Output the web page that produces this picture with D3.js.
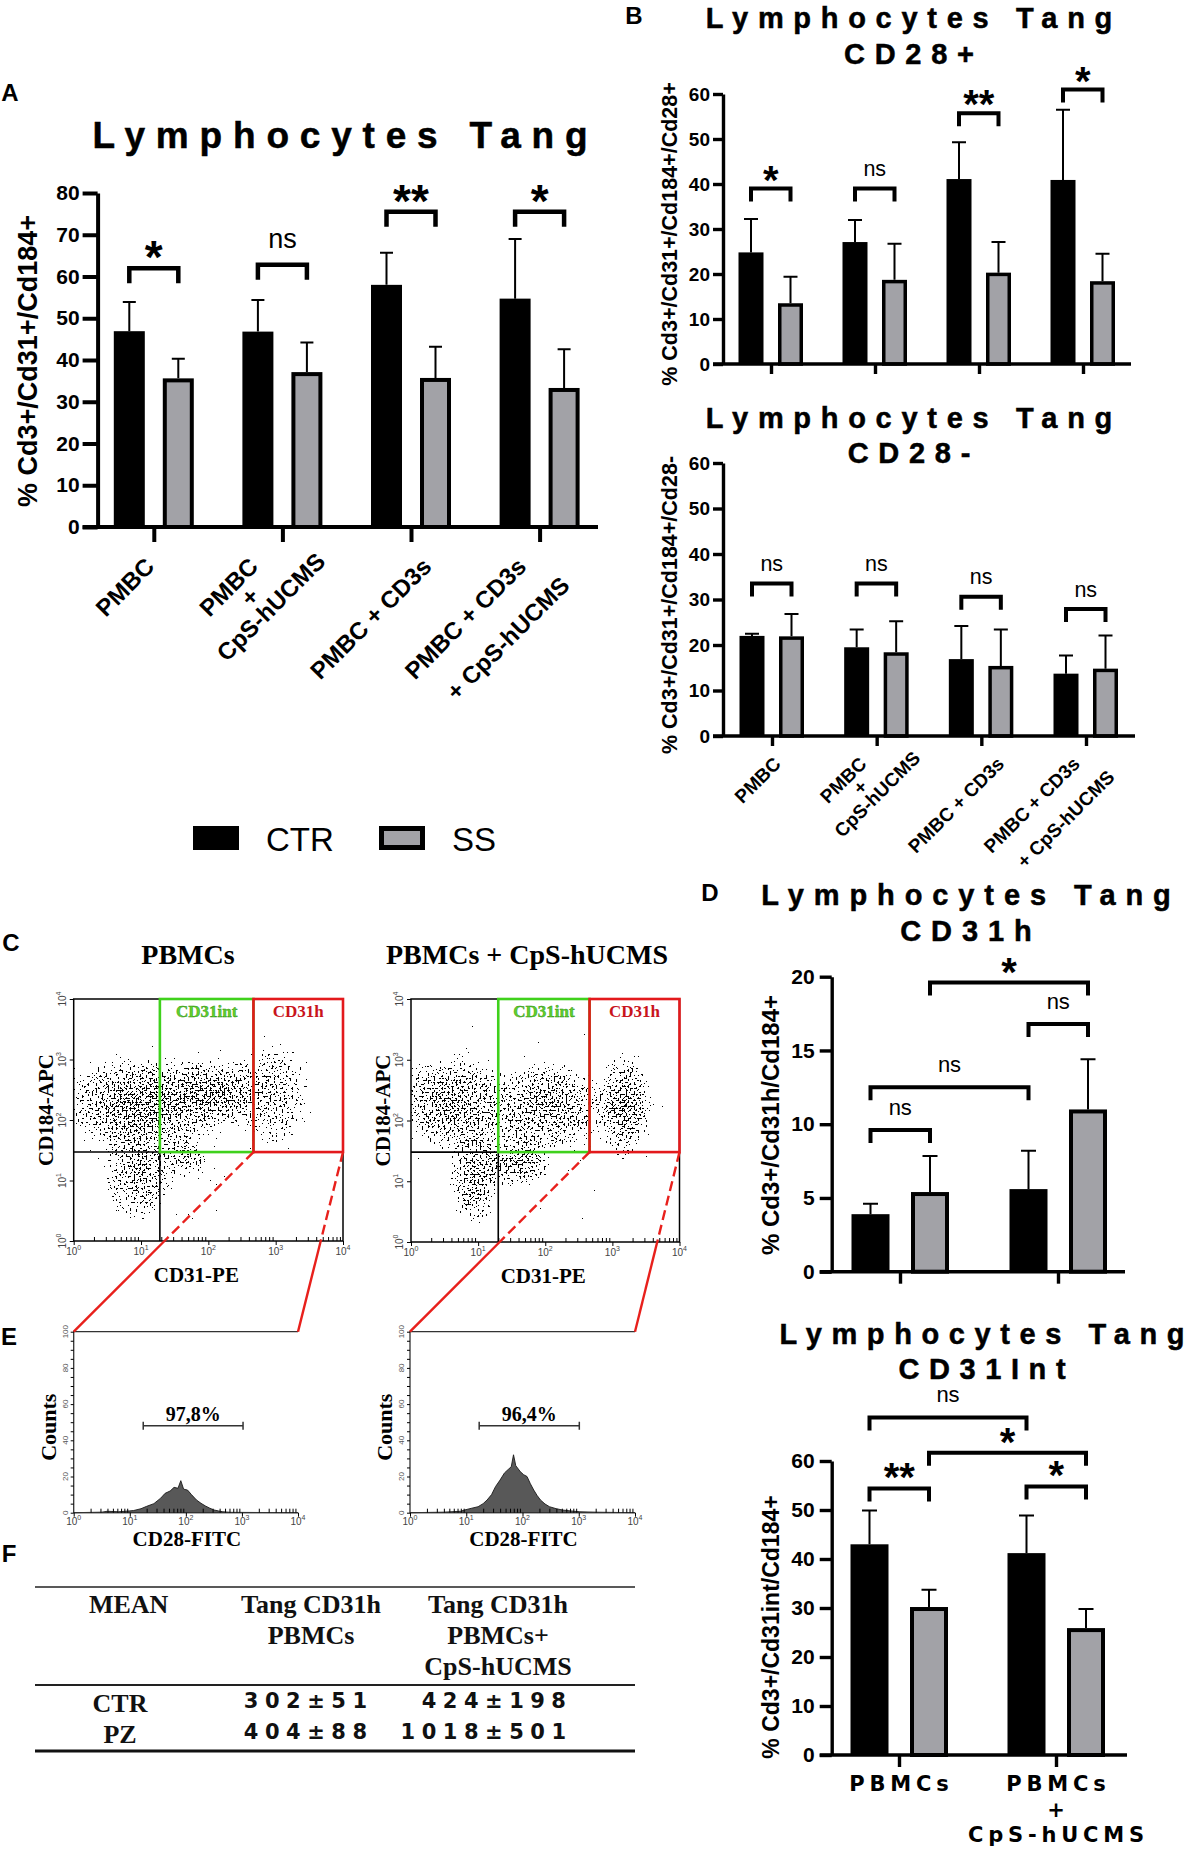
<!DOCTYPE html>
<html>
<head>
<meta charset="utf-8">
<script src="https://cdn.jsdelivr.net/npm/d3@7"></script>
<style>
  body { margin: 0; background: #fff; }
</style>
</head>
<body>
<div id="fig"></div>
<script>
const W = 1193, H = 1849;
const SANS = "'Liberation Sans', Arial, Helvetica, sans-serif";
const WIDE = "'DejaVu Sans', Verdana, sans-serif";
const SERIF = "'Liberation Serif', 'Times New Roman', serif";
const GRAY = "#a2a2a7";

// ---------- data: panel A ----------
const series = ["CTR", "SS"];
const groupsA = [["PMBC"], ["PMBC", "+", "CpS-hUCMS"], ["PMBC + CD3s"], ["PMBC + CD3s", "", "+ CpS-hUCMS"]];
const ctrA = [46.9, 46.8, 58.0, 54.7];
const ctrSdA = [7.0, 7.6, 7.7, 14.3];
const ssA = [35.6, 37.1, 35.7, 33.3];
const ssSdA = [4.7, 7.1, 7.5, 9.3];
const sigA = ["*", "ns", "**", "*"];
const sigLevelA = [62.0, 62.8, 75.5, 75.5];

// ---------- data: panel B (CD28+ / CD28-) ----------
const ctrB1 = [24.8, 27.1, 41.1, 40.9];
const ctrSdB1 = [7.4, 4.9, 8.2, 15.6];
const ssB1 = [13.5, 18.7, 20.3, 18.4];
const ssSdB1 = [5.9, 8.0, 6.8, 6.1];
const sigB1 = ["*", "ns", "**", "*"];
const sigLevelB1 = [39.0, 39.0, 55.7, 61.0];

const ctrB2 = [22.0, 19.5, 16.9, 13.7];
const ctrSdB2 = [0.5, 3.9, 7.3, 4.0];
const ssB2 = [21.9, 18.4, 15.4, 14.8];
const ssSdB2 = [4.9, 6.8, 8.0, 7.3];
const sigB2 = ["ns", "ns", "ns", "ns"];
const sigLevelB2 = [33.5, 33.5, 30.6, 27.9];

// ---------- data: panel D (CD31h / CD31int) ----------
const groupsD = [["PBMCs"], ["PBMCs", "+", "CpS-hUCMS"]];
const ctrD1 = [3.9, 5.6];
const ctrSdD1 = [0.7, 2.6];
const ssD1 = [5.4, 11.0];
const ssSdD1 = [2.45, 3.4];
// [group, series, group, series, label, level]
const compD1 = [[0, "CTR", 0, "SS", "ns", 9.6], [0, "CTR", 1, "CTR", "ns", 12.5],
                [1, "CTR", 1, "SS", "ns", 16.8], [0, "SS", 1, "SS", "*", 19.6]];
const ctrD2 = [43.0, 41.2];
const ctrSdD2 = [6.9, 7.7];
const ssD2 = [30.2, 25.9];
const ssSdD2 = [3.5, 3.9];
const compD2 = [[0, "CTR", 0, "SS", "**", 54.4], [1, "CTR", 1, "SS", "*", 54.8],
                [0, "SS", 1, "SS", "*", 61.7], [0, "CTR", 1, "CTR", "ns", 68.9]];

// ---------- data: panel C (flow dot plots, log10 units) ----------
const decades = [0, 1, 2, 3, 4];
// [log CD31, log CD184, spread x, spread y, density]
const cloudsC1 = [
  [0.75, 2.3, 0.5, 0.42, 1.0], [2.15, 2.45, 0.45, 0.32, 1.0], [1.45, 2.3, 0.4, 0.4, 0.8],
  [0.95, 1.15, 0.3, 0.55, 0.85], [1.6, 1.4, 0.22, 0.2, 0.85], [3.0, 2.45, 0.32, 0.55, 0.7],
  [1.6, 2.0, 1.6, 1.35, 0.5]
];
const cloudsC2 = [
  [0.6, 2.3, 0.5, 0.45, 0.95], [2.05, 2.25, 0.52, 0.4, 0.9], [0.95, 1.1, 0.22, 0.55, 0.9],
  [1.6, 1.35, 0.27, 0.27, 0.95], [3.2, 2.25, 0.24, 0.52, 1.0], [1.7, 2.0, 1.7, 1.35, 0.5]
];
// [CD31 quadrant, CD31int/CD31h split, CD184 quadrant] in log10
const gatesC1 = [1.28, 2.67, 1.47];
const gatesC2 = [1.30, 2.66, 1.48];

// ---------- data: panel E (CD28-FITC histograms) ----------
const histX1 = [0, 0.5, 0.6, 0.8, 1.0, 1.07, 1.2, 1.3, 1.43, 1.55, 1.63, 1.72, 1.79, 1.86, 1.91, 1.96,
                2.03, 2.1, 2.19, 2.27, 2.35, 2.42, 2.5, 2.58, 2.66, 2.8, 4.0];
const countsE1 = [0, 0.3, 0.8, 0.5, 1, 1.2, 2.2, 3.5, 5, 8, 10.7, 12, 14, 13.5, 17.7, 13,
                  12.5, 10, 7, 5.2, 3.7, 2.6, 1.5, 1, 0.5, 0.2, 0];
const histX2 = [0, 0.6, 0.9, 0.97, 1.1, 1.21, 1.3, 1.37, 1.45, 1.52, 1.6, 1.68, 1.75, 1.8, 1.84, 1.88,
                1.96, 2.02, 2.08, 2.14, 2.2, 2.26, 2.32, 2.4, 2.48, 2.6, 2.71, 2.85, 3.02, 3.3, 4.0];
const countsE2 = [0, 0.3, 0.8, 1.5, 2.5, 3.3, 5, 7, 10, 14.4, 18, 22, 24, 25.4, 32, 26,
                  22.7, 21, 20, 16, 12.5, 9.5, 7, 4.8, 3.3, 2.2, 1.5, 1, 0.5, 0.3, 0];
const markerE1 = [1.24, 3.02, 48, "97,8%"];
const markerE2 = [1.23, 3.01, 48, "96,4%"];

// ---------- data: panel F (table) ----------
const tableHead = [["MEAN"], ["Tang CD31h", "PBMCs"], ["Tang CD31h", "PBMCs+", "CpS-hUCMS"]];
const tableRows = [["CTR", "302±51", "424±198"], ["PZ", "404±88", "1018±501"]];

// ---------- svg ----------
const svg = d3.select("#fig").append("svg")
  .attr("width", W).attr("height", H).attr("viewBox", `0 0 ${W} ${H}`)
  .style("font-family", SANS);
svg.append("rect").attr("width", W).attr("height", H).attr("fill", "#fff");
const defs = svg.append("defs");

const grad = defs.append("radialGradient").attr("id", "cloud");
grad.append("stop").attr("offset", "0").attr("stop-color", "#000").attr("stop-opacity", 1);
grad.append("stop").attr("offset", "0.55").attr("stop-color", "#000").attr("stop-opacity", 0.65);
grad.append("stop").attr("offset", "1").attr("stop-color", "#000").attr("stop-opacity", 0);

function panelLetter(t, x, y) {
  svg.append("text").attr("x", x).attr("y", y).attr("text-anchor", "middle")
    .attr("font-size", 24).attr("font-weight", "bold").text(t);
}

function title(lines, cx, ys, size, ls) {
  lines.forEach((s, i) => {
    svg.append("text").attr("x", cx + ls / 2).attr("y", ys[i]).attr("text-anchor", "middle")
      .attr("font-size", size).attr("font-weight", "bold")
      .attr("stroke", "#000").attr("stroke-width", 0.5)
      .attr("letter-spacing", ls).text(s);
  });
}

function yLabel(t, x, y, size) {
  svg.append("text").attr("transform", `translate(${x},${y}) rotate(-90)`)
    .attr("text-anchor", "middle").attr("font-size", size).attr("font-weight", "bold").text(t);
}

// grouped bar chart with upper SD whiskers and significance brackets
function barPanel(o) {
  const g = svg.append("g");
  const y = d3.scaleLinear().domain([0, o.yMax]).range([o.yBottom, o.yTop]);
  const x = d3.scalePoint().domain(d3.range(o.ctr.length)).range(o.xRange);
  const sub = d3.scalePoint().domain(series).range(o.sub);
  const cx = (i, s) => x(i) + sub(s);

  const rows = [];
  o.ctr.forEach((v, i) => rows.push({ i, s: "CTR", v, sd: o.ctrSd[i] }));
  o.ss.forEach((v, i) => rows.push({ i, s: "SS", v, sd: o.ssSd[i] }));

  // whiskers
  g.selectAll(".err").data(rows).join("path")
    .attr("d", d => `M${cx(d.i, d.s)},${y(d.v)}V${y(d.v + d.sd)}` +
                    `M${cx(d.i, d.s) - o.cap / 2},${y(d.v + d.sd)}h${o.cap}`)
    .attr("stroke", "#000").attr("stroke-width", o.errW).attr("fill", "none");

  // bars
  g.selectAll(".bar").data(rows).join("rect")
    .attr("x", d => cx(d.i, d.s) - o.bw / 2 + (d.s === "SS" ? o.bs / 2 : 0))
    .attr("y", d => y(d.v) + (d.s === "SS" ? o.bs / 2 : 0))
    .attr("width", d => o.bw - (d.s === "SS" ? o.bs : 0))
    .attr("height", d => y(0) - y(d.v) - (d.s === "SS" ? o.bs / 2 : 0))
    .attr("fill", d => d.s === "SS" ? GRAY : "#000")
    .attr("stroke", d => d.s === "SS" ? "#000" : "none")
    .attr("stroke-width", o.bs);

  // axes
  g.append("g").attr("transform", `translate(${o.axisX},0)`)
    .call(d3.axisLeft(y).tickValues(d3.range(0, o.yMax + 0.01, o.step))
      .tickSize(o.tick).tickSizeOuter(0).tickPadding(o.pad))
    .call(a => {
      a.select(".domain").attr("stroke-width", o.sw);
      a.selectAll(".tick line").attr("stroke-width", o.sw);
      a.selectAll("text").attr("font-size", o.tickFont).attr("font-weight", "bold")
        .attr("font-family", SANS).attr("fill", "#000");
    });
  g.append("g").attr("transform", `translate(0,${o.yBottom})`)
    .call(d3.axisBottom(x).tickSize(o.tick).tickSizeOuter(0).tickFormat(() => ""))
    .call(a => {
      a.select(".domain").remove();
      a.selectAll(".tick line").attr("stroke-width", o.sw);
    });
  g.append("line").attr("x1", o.axisX - o.tick).attr("x2", o.xEnd)
    .attr("y1", o.yBottom).attr("y2", o.yBottom)
    .attr("stroke", "#000").attr("stroke-width", o.sw);

  // significance brackets
  g.selectAll(".brk").data(o.comps).join("path")
    .attr("d", d => {
      const x1 = cx(d[0], d[1]), x2 = cx(d[2], d[3]), yy = y(d[5]);
      return `M${x1},${yy + o.leg}V${yy}H${x2}V${yy + o.leg}`;
    })
    .attr("fill", "none").attr("stroke", "#000").attr("stroke-width", o.bsw)
    .attr("stroke-linejoin", "miter");
  g.selectAll(".sig").data(o.comps).join("text")
    .attr("x", d => (cx(d[0], d[1]) + cx(d[2], d[3])) / 2)
    .attr("y", d => d[4] === "ns" ? y(d[5]) - o.nsGap : y(d[5]) + o.starGap)
    .attr("text-anchor", "middle")
    .attr("font-size", d => d[4] === "ns" ? o.nsFont : o.starFont)
    .attr("font-weight", d => d[4] === "ns" ? "normal" : "bold")
    .text(d => d[4]);

  return { g, x, y };
}

// rotated multi-line category labels
function rotLabels(p, groups, o) {
  groups.forEach((lines, i) => {
    const t = p.g.append("text")
      .attr("transform", `translate(${p.x(i) + o.dx[i]},${p.y(0) + o.dy}) rotate(-45)`)
      .attr("font-size", o.font).attr("font-weight", "bold").attr("text-anchor", "middle");
    const spans = lines.map((s, j) => t.append("tspan").attr("y", j * o.lh).text(s));
    const w = spans.map(s => s.node().getComputedTextLength());
    spans.forEach((s, j) => s.attr("x", -w[0] / 2 + j * o.shift));
  });
}

function compsFrom(sig, levels) {
  return sig.map((l, i) => [i, "CTR", i, "SS", l, levels[i]]);
}

// ---------- panel A ----------
panelLetter("A", 10, 101);
title(["Lymphocytes Tang"], 340, [148], 37, 10.8);
yLabel("% Cd3+/Cd31+/Cd184+", 37, 361, 27);
const pA = barPanel({
  ctr: ctrA, ctrSd: ctrSdA, ss: ssA, ssSd: ssSdA, comps: compsFrom(sigA, sigLevelA),
  yMax: 80, step: 10, yTop: 193, yBottom: 527, axisX: 97.6, xRange: [153.8, 539.6], xEnd: 598,
  sub: [-24.5, 24.5], bw: 31, bs: 4, tick: 15, pad: 3, sw: 4, tickFont: 21, cap: 13, errW: 2,
  leg: 15, bsw: 4.5, starFont: 46, nsFont: 27, starGap: 5, nsGap: 17
});
rotLabels(pA, groupsA, { dx: [2, -23, 22, -12], dy: 41, lh: 22, shift: 8, font: 24 });

// legend
svg.append("rect").attr("x", 193).attr("y", 826).attr("width", 46).attr("height", 24).attr("fill", "#000");
svg.append("rect").attr("x", 381.5).attr("y", 828.5).attr("width", 41).attr("height", 19)
  .attr("fill", GRAY).attr("stroke", "#000").attr("stroke-width", 5);
svg.append("text").attr("x", 266).attr("y", 851).attr("font-size", 33).text(series[0]);
svg.append("text").attr("x", 452).attr("y", 851).attr("font-size", 33).text(series[1]);

// ---------- panel B ----------
panelLetter("B", 634, 24);
title(["Lymphocytes Tang", "CD28+"], 909, [28, 64], 29, 9.7);
yLabel("% Cd3+/Cd31+/Cd184+/Cd28+", 677, 234, 21.5);
barPanel({
  ctr: ctrB1, ctrSd: ctrSdB1, ss: ssB1, ssSd: ssSdB1, comps: compsFrom(sigB1, sigLevelB1),
  yMax: 60, step: 10, yTop: 94, yBottom: 364, axisX: 723, xRange: [771, 1083], xEnd: 1131,
  sub: [-20, 19.5], bw: 25, bs: 3.5, tick: 10, pad: 3, sw: 3.4, tickFont: 19, cap: 14, errW: 2,
  leg: 13, bsw: 4, starFont: 40, nsFont: 21.5, starGap: 5, nsGap: 12.5
});
title(["Lymphocytes Tang", "CD28-"], 909, [428, 463], 29, 9.7);
yLabel("% Cd3+/Cd31+/Cd184+/Cd28-", 677, 605, 21.5);
const pB2 = barPanel({
  ctr: ctrB2, ctrSd: ctrSdB2, ss: ssB2, ssSd: ssSdB2, comps: compsFrom(sigB2, sigLevelB2),
  yMax: 60, step: 10, yTop: 463, yBottom: 736, axisX: 723, xRange: [772, 1086], xEnd: 1135,
  sub: [-20, 19.5], bw: 25, bs: 3.5, tick: 10, pad: 3, sw: 3.4, tickFont: 19, cap: 14, errW: 2,
  leg: 13, bsw: 4, starFont: 40, nsFont: 21.5, starGap: 5, nsGap: 12.5
});
rotLabels(pB2, groupsA, { dx: [10, -9, 24, -5], dy: 29, lh: 17, shift: 7, font: 19 });

// ---------- panel D ----------
panelLetter("D", 710, 901);
title(["Lymphocytes Tang", "CD31h"], 966, [905, 941], 29, 9.9);
yLabel("% Cd3+/Cd31h/Cd184+", 779, 1125, 24);
barPanel({
  ctr: ctrD1, ctrSd: ctrSdD1, ss: ssD1, ssSd: ssSdD1, comps: compD1,
  yMax: 20, step: 5, yTop: 976.7, yBottom: 1271.7, axisX: 831.7, xRange: [900, 1058], xEnd: 1125,
  sub: [-29.5, 30], bw: 38, bs: 4, tick: 12, pad: 5, sw: 3.4, tickFont: 21, cap: 15, errW: 2,
  leg: 13, bsw: 4, starFont: 40, nsFont: 22, starGap: 3, nsGap: 15
});
title(["Lymphocytes Tang", "CD31Int"], 982, [1344, 1379], 29, 9.6);
yLabel("% Cd3+/Cd31int/Cd184+", 779, 1627, 23);
const pD2 = barPanel({
  ctr: ctrD2, ctrSd: ctrSdD2, ss: ssD2, ssSd: ssSdD2, comps: compD2,
  yMax: 60, step: 10, yTop: 1461, yBottom: 1755, axisX: 831.7, xRange: [899, 1056], xEnd: 1127,
  sub: [-29.5, 30], bw: 38, bs: 4, tick: 12, pad: 5, sw: 3.4, tickFont: 21, cap: 15, errW: 2,
  leg: 13, bsw: 4, starFont: 40, nsFont: 22, starGap: 3, nsGap: 15
});
groupsD.forEach((lines, i) => {
  lines.forEach((s, j) => {
    pD2.g.append("text").attr("x", pD2.x(i) + 2.4).attr("y", 1791 + j * 25.5)
      .attr("text-anchor", "middle").attr("font-family", WIDE).attr("font-size", 21)
      .attr("font-weight", "bold").attr("letter-spacing", 4.8).text(s);
  });
});

// ---------- flow cytometry helpers ----------
function stipple(id, x, y, w, h, seed) {
  const f = defs.append("filter").attr("id", id).attr("filterUnits", "userSpaceOnUse")
    .attr("x", x).attr("y", y).attr("width", w).attr("height", h)
    .attr("color-interpolation-filters", "sRGB");
  f.append("feTurbulence").attr("type", "fractalNoise").attr("baseFrequency", 0.5)
    .attr("numOctaves", 1).attr("seed", seed).attr("result", "noise");
  f.append("feColorMatrix").attr("in", "noise").attr("type", "matrix")
    .attr("values", "0 0 0 0 0  0 0 0 0 0  0 0 0 0 0  1 0 0 0 0").attr("result", "na");
  f.append("feComposite").attr("in", "SourceAlpha").attr("in2", "na").attr("operator", "arithmetic")
    .attr("k1", 0).attr("k2", 0.45).attr("k3", 1).attr("k4", -0.35).attr("result", "sum");
  f.append("feComponentTransfer").attr("in", "sum")
    .append("feFuncA").attr("type", "discrete").attr("tableValues", "0 0 0 0 0 0 1 1 1 1");
}

const minorLog = d3.range(0, 4).flatMap(d => d3.range(2, 10).map(k => d + Math.log10(k)));

function powLabel(g, x, y, e, rot) {
  const t = g.append("text").attr("transform", `translate(${x},${y})${rot ? " rotate(-90)" : ""}`)
    .attr("text-anchor", "middle").attr("font-size", 10).attr("fill", "#444");
  t.append("tspan").text("10");
  t.append("tspan").attr("dy", -5).attr("font-size", 7).text(e);
}

function logAxisX(g, x, yb, labelGap) {
  g.append("g").attr("transform", `translate(0,${yb})`)
    .call(d3.axisBottom(x).tickValues(minorLog).tickSize(-4).tickSizeOuter(0).tickFormat(() => ""))
    .call(a => a.select(".domain").remove());
  g.append("g").attr("transform", `translate(0,${yb})`)
    .call(d3.axisBottom(x).tickValues(decades).tickSize(4).tickSizeOuter(0).tickFormat(() => ""))
    .call(a => a.select(".domain").remove());
  decades.forEach(d => powLabel(g, x(d), yb + labelGap, d, false));
}

function flowPlot(o) {
  const g = svg.append("g");
  const x = d3.scaleLinear().domain([0, 4]).range([o.l, o.r]);
  const y = d3.scaleLinear().domain([0, 4]).range([o.b, o.t]);
  stipple("st" + o.id, o.l, o.t, o.r - o.l, o.b - o.t, o.seed);
  g.append("g").attr("filter", `url(#st${o.id})`)
    .selectAll("ellipse").data(o.clouds).join("ellipse")
    .attr("cx", d => x(d[0])).attr("cy", d => y(d[1]))
    .attr("rx", d => x(2 * d[2]) - x(0)).attr("ry", d => y(0) - y(2 * d[3]))
    .attr("fill", "url(#cloud)").attr("fill-opacity", d => d[4]);

  g.append("rect").attr("x", o.l).attr("y", o.t).attr("width", o.r - o.l).attr("height", o.b - o.t)
    .attr("fill", "none").attr("stroke", "#000").attr("stroke-width", 1.5);
  const [qx, split, qy] = o.gates;
  g.append("path").attr("d", `M${x(qx)},${o.b}V${y(qy)}H${o.l}`)
    .attr("fill", "none").attr("stroke", "#000").attr("stroke-width", 1.6);
  g.append("rect").attr("x", x(qx)).attr("y", o.t).attr("width", x(split) - x(qx)).attr("height", y(qy) - o.t)
    .attr("fill", "none").attr("stroke", "#3fd11c").attr("stroke-width", 2.6);
  g.append("rect").attr("x", x(split)).attr("y", o.t).attr("width", o.r - x(split)).attr("height", y(qy) - o.t)
    .attr("fill", "none").attr("stroke", "#e3191c").attr("stroke-width", 2.6);
  g.append("text").attr("x", (x(qx) + x(split)) / 2).attr("y", o.t + 18).attr("text-anchor", "middle")
    .attr("font-family", SERIF).attr("font-weight", "bold").attr("font-size", 17)
    .attr("fill", "#5fd12c").attr("stroke", "#2c8a12").attr("stroke-width", 0.4).text("CD31int");
  g.append("text").attr("x", (x(split) + o.r) / 2).attr("y", o.t + 18).attr("text-anchor", "middle")
    .attr("font-family", SERIF).attr("font-weight", "bold").attr("font-size", 17)
    .attr("fill", "#c9141c").text("CD31h");

  logAxisX(g, x, o.b, 14);
  g.append("g").attr("transform", `translate(${o.l},0)`)
    .call(d3.axisLeft(y).tickValues(decades).tickSize(4).tickSizeOuter(0).tickFormat(() => ""))
    .call(a => a.select(".domain").remove());
  decades.forEach(d => powLabel(g, o.l - 8, y(d), d, true));

  g.append("text").attr("transform", `translate(${o.l - 21},${(o.t + o.b) / 2 - 10}) rotate(-90)`)
    .attr("text-anchor", "middle").attr("font-family", SERIF).attr("font-weight", "bold")
    .attr("font-size", 21).text("CD184-APC");
  g.append("text").attr("x", (o.l + o.r) / 2 + o.labDx).attr("y", o.b + 41).attr("text-anchor", "middle")
    .attr("font-family", SERIF).attr("font-weight", "bold").attr("font-size", 21).text("CD31-PE");
  g.append("text").attr("x", o.titleX).attr("y", 964).attr("text-anchor", "middle")
    .attr("font-family", SERIF).attr("font-weight", "bold").attr("font-size", 28).text(o.title);
  return { x, y, gates: o.gates, o };
}

function histPlot(o) {
  const g = svg.append("g");
  const x = d3.scaleLinear().domain([0, 4]).range([o.l, o.r]);
  const y = d3.scaleLinear().domain([0, 100]).range([o.b, o.t]);
  const pts = o.xs.map((v, i) => [v, o.counts[i]]);
  g.append("path").datum(pts)
    .attr("d", d3.area().x(d => x(d[0])).y0(y(0)).y1(d => y(d[1])))
    .attr("fill", "#585858").attr("stroke", "#1a1a1a").attr("stroke-width", 0.9);
  g.append("path").attr("d", `M${o.r},${o.t}H${o.l}V${o.b}H${o.r}`)
    .attr("fill", "none").attr("stroke", "#333").attr("stroke-width", 1.3);
  logAxisX(g, x, o.b, 12);
  g.append("g").attr("transform", `translate(${o.l},0)`)
    .call(d3.axisLeft(y).tickValues(d3.range(0, 101, 5)).tickSize(3).tickSizeOuter(0).tickFormat(() => ""))
    .call(a => a.select(".domain").remove());
  d3.range(0, 101, 20).forEach(v => {
    g.append("text").attr("transform", `translate(${o.l - 6},${y(v)}) rotate(-90)`)
      .attr("text-anchor", "middle").attr("font-size", 8).attr("fill", "#555").text(v);
  });
  const [m1, m2, lv, lab] = o.marker;
  g.append("path").attr("d", `M${x(m1)},${y(lv) - 4}v8M${x(m1)},${y(lv)}H${x(m2)}M${x(m2)},${y(lv) - 4}v8`)
    .attr("stroke", "#333").attr("stroke-width", 1.5).attr("fill", "none");
  g.append("text").attr("x", (x(m1) + x(m2)) / 2).attr("y", y(lv) - 5).attr("text-anchor", "middle")
    .attr("font-family", SERIF).attr("font-weight", "bold").attr("font-size", 20).text(lab);
  g.append("text").attr("transform", `translate(${o.l - 18},${(o.t + o.b) / 2 + 5}) rotate(-90)`)
    .attr("text-anchor", "middle").attr("font-family", SERIF).attr("font-weight", "bold")
    .attr("font-size", 22).text("Counts");
  g.append("text").attr("x", (o.l + o.r) / 2 + 1).attr("y", 1546).attr("text-anchor", "middle")
    .attr("font-family", SERIF).attr("font-weight", "bold").attr("font-size", 21).text("CD28-FITC");
  return { x, y, o };
}

function connect(c, e) {
  const y0 = c.y(c.gates[2]);
  const pairs = [[c.x(c.gates[1]), e.o.l], [c.o.r, e.o.r]];
  pairs.forEach(([xa, xb]) => {
    const t = (c.o.b - y0) / (e.o.t - y0);
    const xm = xa + (xb - xa) * t;
    svg.append("line").attr("x1", xa).attr("y1", y0).attr("x2", xm).attr("y2", c.o.b)
      .attr("stroke", "#e8201c").attr("stroke-width", 2.4).attr("stroke-dasharray", "10,5");
    svg.append("line").attr("x1", xm).attr("y1", c.o.b).attr("x2", xb).attr("y2", e.o.t)
      .attr("stroke", "#e8201c").attr("stroke-width", 2.4);
  });
}

// ---------- panel C / E ----------
panelLetter("C", 11, 951);
const c1 = flowPlot({ id: "c1", l: 73.7, r: 343, t: 999, b: 1241, clouds: cloudsC1, gates: gatesC1,
                      seed: 4, title: "PBMCs", titleX: 188, labDx: -12 });
const c2 = flowPlot({ id: "c2", l: 411, r: 679.5, t: 999, b: 1242, clouds: cloudsC2, gates: gatesC2,
                      seed: 9, title: "PBMCs + CpS-hUCMS", titleX: 527, labDx: -2 });
panelLetter("E", 9, 1345);
const e1 = histPlot({ l: 73.7, r: 298, t: 1331.7, b: 1512.7, xs: histX1, counts: countsE1, marker: markerE1 });
const e2 = histPlot({ l: 410, r: 635, t: 1331.7, b: 1512.7, xs: histX2, counts: countsE2, marker: markerE2 });
connect(c1, e1);
connect(c2, e2);

// ---------- panel F ----------
panelLetter("F", 9, 1562);
const tg = svg.append("g").attr("fill", "#111");
tg.append("line").attr("x1", 35).attr("x2", 635).attr("y1", 1587).attr("y2", 1587)
  .attr("stroke", "#222").attr("stroke-width", 1.5);
tg.append("line").attr("x1", 35).attr("x2", 635).attr("y1", 1685).attr("y2", 1685)
  .attr("stroke", "#222").attr("stroke-width", 2);
tg.append("line").attr("x1", 35).attr("x2", 635).attr("y1", 1751).attr("y2", 1751)
  .attr("stroke", "#111").attr("stroke-width", 3);
const headX = [128.6, 311, 498];
tableHead.forEach((lines, c) => lines.forEach((s, j) => {
  tg.append("text").attr("x", headX[c]).attr("y", 1613 + j * 31).attr("text-anchor", "middle")
    .attr("font-family", SERIF).attr("font-weight", "bold").attr("font-size", 26).text(s);
}));
const rowY = [1710, 1741];
const numEnd = [367, 566];
tableRows.forEach((r, i) => {
  tg.append("text").attr("x", 120).attr("y", rowY[i] + 2).attr("text-anchor", "middle")
    .attr("font-family", SERIF).attr("font-weight", "bold").attr("font-size", 26).text(r[0]);
  [r[1], r[2]].forEach((s, k) => {
    tg.append("text").attr("x", numEnd[k] + 6.5).attr("y", rowY[i] - 2).attr("text-anchor", "end")
      .attr("font-family", WIDE).attr("font-weight", "bold").attr("font-size", 21)
      .attr("letter-spacing", 6.5).text(s);
  });
});
</script>
</body>
</html>
